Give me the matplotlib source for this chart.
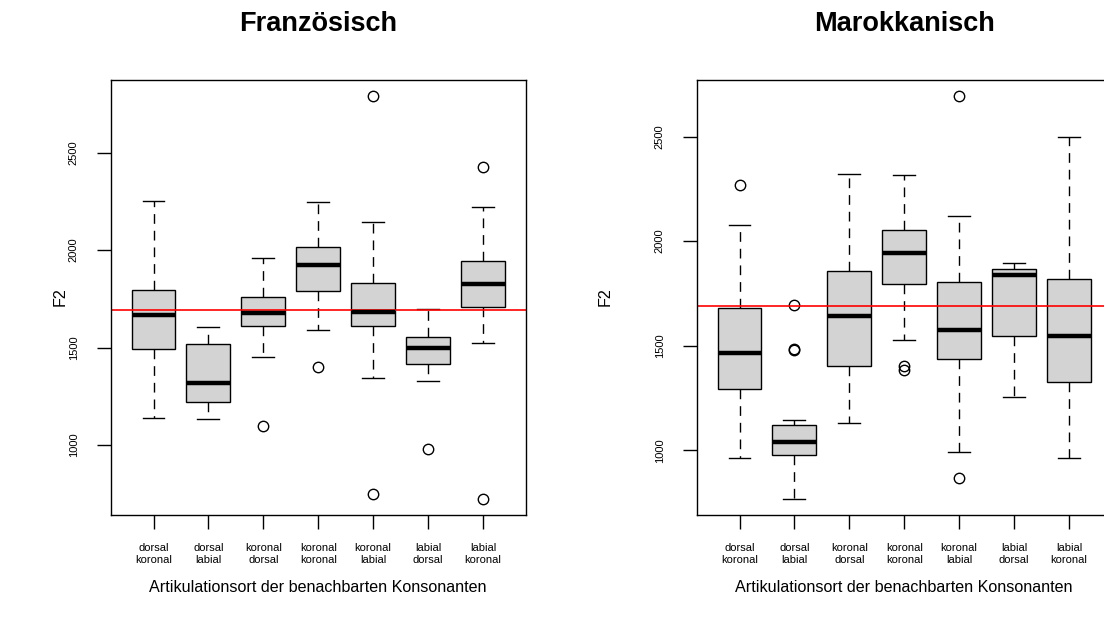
import matplotlib
matplotlib.use('Agg')
import matplotlib.pyplot as plt

plt.rcParams['font.family'] = ['Liberation Sans', 'DejaVu Sans']

# Kategorien (Artikulationsort der benachbarten Konsonanten)
kategorien = ['dorsal\nkoronal', 'dorsal\nlabial', 'koronal\ndorsal', 'koronal\nkoronal',
              'koronal\nlabial', 'labial\ndorsal', 'labial\nkoronal']

# Französisch - Kennwerte der Boxplots
fr_whislo = [1140, 1133, 1451, 1591, 1345, 1328, 1526]
fr_q1 = [1494, 1222, 1612, 1791, 1610, 1417, 1706]
fr_med = [1665, 1318, 1680, 1924, 1685, 1499, 1827]
fr_q3 = [1798, 1519, 1759, 2015, 1832, 1552, 1943]
fr_whishi = [2252, 1605, 1962, 2245, 2143, 1699, 2223]
fr_ausreisser = [[], [], [1096], [1402], [2789, 751], [978], [2428, 725]]
fr_mittel = 1694

# Marokkanisch
ma_whislo = [963, 767, 1128, 1528, 990, 1255, 963]
ma_q1 = [1293, 979, 1405, 1797, 1437, 1548, 1325]
ma_med = [1467, 1041, 1641, 1944, 1574, 1840, 1547]
ma_q3 = [1679, 1121, 1859, 2052, 1807, 1866, 1818]
ma_whishi = [2076, 1143, 2321, 2315, 2119, 1896, 2500]
ma_ausreisser = [[2267], [1695, 1486, 1480], [], [1403, 1384], [2694, 866], [], []]
ma_mittel = 1690

fig = plt.figure(figsize=(11.04, 6.21), dpi=100)

def zeichne(ax, titel, whislo, q1, med, q3, whishi, ausreisser, mittel, ylim):
    stats = []
    for i in range(len(kategorien)):
        stats.append({'whislo': whislo[i], 'q1': q1[i], 'med': med[i], 'q3': q3[i],
                      'whishi': whishi[i], 'fliers': ausreisser[i]})
    ax.bxp(stats, positions=range(1, 8), widths=0.8, capwidths=0.4, patch_artist=True,
           boxprops=dict(facecolor='#d3d3d3', edgecolor='black', linewidth=1.0),
           medianprops=dict(color='black', linewidth=3.2, solid_capstyle='butt'),
           whiskerprops=dict(color='black', linewidth=1.0, linestyle=(0, (7, 5))),
           capprops=dict(color='black', linewidth=1.0),
           flierprops=dict(marker='o', markerfacecolor='none', markeredgecolor='black',
                           markersize=7.5, markeredgewidth=1.0))
    ax.axhline(mittel, color='red', linewidth=1.2)
    ax.set_xlim(0.22, 7.78)
    ax.set_ylim(*ylim)
    ax.set_yticks([1000, 1500, 2000, 2500])
    ax.set_xticks(range(1, 8))
    ax.set_xticklabels(kategorien, fontsize=8, linespacing=1.3)
    ax.tick_params(axis='x', length=10, width=1.0, pad=10)
    ax.tick_params(axis='y', length=10, width=1.0, pad=13, labelsize=8, labelrotation=90)
    for t in ax.get_yticklabels():
        t.set_va('center')
    for s in ax.spines.values():
        s.set_linewidth(1.0)

ax1 = fig.add_axes([110.7 / 1104, 106 / 621, 415 / 1104, 435 / 621])
zeichne(ax1, 'Französisch', fr_whislo, fr_q1, fr_med, fr_q3, fr_whishi, fr_ausreisser,
        fr_mittel, (642, 2872))
ax2 = fig.add_axes([696.7 / 1104, 106 / 621, 415 / 1104, 435 / 621])
zeichne(ax2, 'Marokkanisch', ma_whislo, ma_q1, ma_med, ma_q3, ma_whishi, ma_ausreisser,
        ma_mittel, (690, 2771))

for cx, fx, titel in [(318.2, 60, 'Französisch'), (904.2, 605, 'Marokkanisch')]:
    fig.text(cx / 1104, 1 - 24 / 621, titel, ha='center', va='center',
             fontsize=19.5, fontweight='bold')
    fig.text(cx / 1104, 1 - 588 / 621, 'Artikulationsort der benachbarten Konsonanten',
             ha='center', va='center', fontsize=11.6)
    fig.text(fx / 1104, 1 - 297 / 621, 'F2', ha='center', va='center',
             fontsize=11.6, rotation=90)

fig.savefig('out.png', dpi=100)
